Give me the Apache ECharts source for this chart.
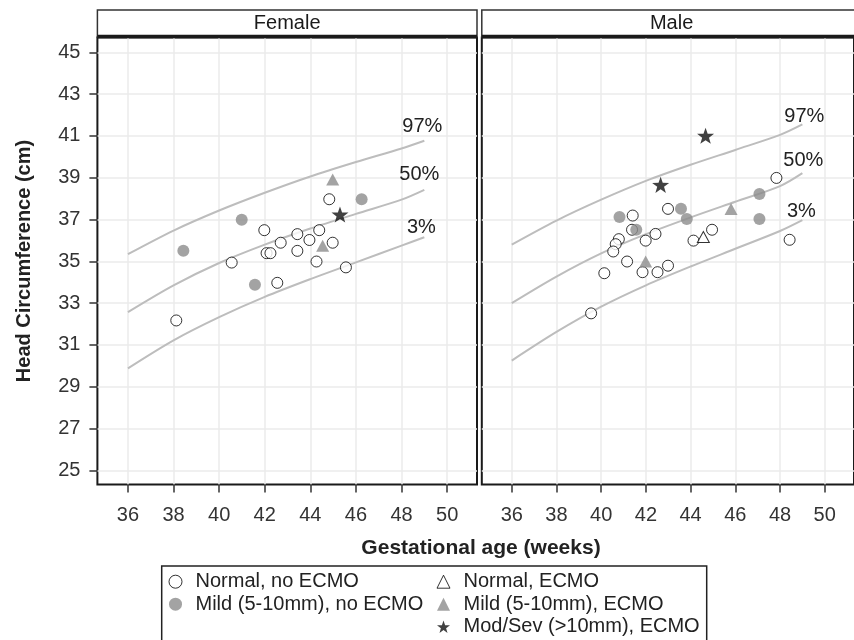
<!DOCTYPE html>
<html><head><meta charset="utf-8">
<script src="https://cdn.jsdelivr.net/npm/echarts@6/dist/echarts.min.js"></script>
<style>html,body{margin:0;padding:0;background:#fff}#c{width:854px;height:640px}</style>
</head><body><div id="c"></div><script>
// ---- data ----
const panels = ['Female', 'Male'];
const xTicks = [36, 38, 40, 42, 44, 46, 48, 50];
const yTicks = [25, 27, 29, 31, 33, 35, 37, 39, 41, 43, 45];
const categories = ['Normal, no ECMO', 'Mild (5-10mm), no ECMO', 'Normal, ECMO', 'Mild (5-10mm), ECMO', 'Mod/Sev (>10mm), ECMO'];
const pctNames = ['97%', '50%', '3%'];
const pctWeeks = [36, 38, 40, 42, 44, 46, 48, 49];
const female97 = [35.34, 36.47, 37.43, 38.28, 39.06, 39.75, 40.40, 40.77];
const female50 = [32.57, 33.85, 34.92, 35.80, 36.57, 37.27, 37.95, 38.42];
const female3  = [29.88, 31.22, 32.33, 33.30, 34.15, 34.95, 35.75, 36.15];
const male97 = [35.80, 36.95, 37.95, 38.85, 39.62, 40.33, 41.05, 41.55];
const male50 = [33.00, 34.27, 35.38, 36.30, 37.10, 37.85, 38.60, 39.22];
const male3  = [30.25, 31.62, 32.83, 33.85, 34.75, 35.60, 36.45, 36.97];

const femaleNormalNoEcmo = [[44.83,37.97],[41.98,36.49],[43.43,36.30],[44.39,36.49],[42.70,35.89],[43.96,36.02],[44.98,35.89],[42.08,35.39],[42.25,35.39],[43.43,35.50],[40.55,34.94],[44.27,34.99],[45.56,34.71],[42.55,33.97],[38.12,32.17]];
const femaleMildNoEcmo = [[46.25,37.97],[40.99,36.99],[38.43,35.50],[41.57,33.88]];
const femaleNormalEcmo = [];
const femaleMildEcmo = [[44.98,38.92],[44.54,35.74]];
const femaleModSevEcmo = [[45.30,37.24]];

const maleNormalNoEcmo = [[47.84,38.99],[42.99,37.51],[41.41,37.19],[41.38,36.51],[42.43,36.31],[41.99,35.99],[44.13,35.99],[44.96,36.51],[40.79,36.06],[40.65,35.82],[40.54,35.47],[48.43,36.03],[41.16,34.99],[42.99,34.79],[40.14,34.43],[41.85,34.48],[42.52,34.48],[39.55,32.51]];
const maleMildNoEcmo = [[47.08,38.22],[43.57,37.51],[43.83,37.02],[47.08,37.03],[40.82,37.12],[41.57,36.51]];
const maleNormalEcmo = [[44.57,36.16]];
const maleMildEcmo = [[45.81,37.50],[41.99,34.99]];
const maleModSevEcmo = [[44.67,41.01],[42.66,38.66]];

// ---- styles ----
const FONT = 'Liberation Sans, Arial, Helvetica, sans-serif';
const GRAY = '#8c8c8c';
const STAR = 'path://M0,-10L2.35,-3.24L9.51,-3.09L3.8,1.24L5.88,8.09L0,4L-5.88,8.09L-3.8,1.24L-9.51,-3.09L-2.35,-3.24Z';
const catStyles = [
  {symbol: 'circle', symbolSize: 11, itemStyle: {color: '#fff', borderColor: '#000', borderWidth: 1}},
  {symbol: 'circle', symbolSize: 12, itemStyle: {color: GRAY}},
  {symbol: 'triangle', symbolSize: [12, 11], itemStyle: {color: '#fff', borderColor: '#000', borderWidth: 1}},
  {symbol: 'triangle', symbolSize: [13, 12], itemStyle: {color: GRAY}},
  {symbol: STAR, symbolSize: 17, symbolKeepAspect: true, itemStyle: {color: '#111'}}
];
const legendIcons = [
  {icon: 'circle', itemStyle: {color: '#fff', borderColor: '#000', borderWidth: 1}},
  {icon: 'circle', itemStyle: {color: GRAY, borderWidth: 0}},
  {icon: 'triangle', itemStyle: {color: '#fff', borderColor: '#000', borderWidth: 1}},
  {icon: 'triangle', itemStyle: {color: GRAY, borderWidth: 0}},
  {icon: STAR, itemStyle: {color: '#111', borderWidth: 0}}
];
const pointData = [
  [femaleNormalNoEcmo, femaleMildNoEcmo, femaleNormalEcmo, femaleMildEcmo, femaleModSevEcmo],
  [maleNormalNoEcmo, maleMildNoEcmo, maleNormalEcmo, maleMildEcmo, maleModSevEcmo]
];
const curveData = [[female97, female50, female3], [male97, male50, male3]];
const labelOffsets = [[[-2,-14],[-5,-15],[-3,-10]], [[2,-8],[1,-13],[-1,-9]]];

const gridLeft = [97.4, 481.8];
const gridW = 379.6;
const gridTop = 37.5, gridH = 447;
const xMin = 34.66, xMax = 51.31, yMin = 24.32, yMax = 45.71;

const grids = [], xAxes = [], yAxes = [], series = [], graphics = [];
panels.forEach((p, i) => {
  grids.push({left: gridLeft[i], top: gridTop, width: gridW, height: gridH, show: true,
    borderColor: '#1a1a1a', borderWidth: 2, backgroundColor: '#fff', containLabel: false});
  xAxes.push({type: 'value', gridIndex: i, min: xMin, max: xMax,
    axisLine: {show: false},
    axisTick: {show: true, length: 8, lineStyle: {color: '#333', width: 1.5}, customValues: xTicks},
    axisLabel: {show: true, customValues: xTicks, fontSize: 20, color: '#333', fontFamily: FONT, margin: 21},
    splitLine: {show: true, lineStyle: {color: '#ebebeb', width: 1.5}}});
  yAxes.push({type: 'value', gridIndex: i, min: yMin, max: yMax,
    axisLine: {show: false},
    axisTick: {show: i === 0, length: 8, lineStyle: {color: '#333', width: 1.5}, customValues: yTicks},
    axisLabel: {show: i === 0, customValues: yTicks, fontSize: 20, color: '#333', fontFamily: FONT, margin: 17},
    splitLine: {show: true, lineStyle: {color: '#ebebeb', width: 1.5}}});
  curveData[i].forEach((vals, k) => {
    series.push({type: 'line', xAxisIndex: i, yAxisIndex: i, silent: true,
      data: pctWeeks.map((w, j) => [w, vals[j]]), smooth: 0.3, showSymbol: false, symbol: 'none',
      lineStyle: {color: '#bdbdbd', width: 2}, z: 2,
      endLabel: {show: true, formatter: pctNames[k], fontSize: 20, color: '#222', fontFamily: FONT,
        align: 'center', verticalAlign: 'middle', distance: 0, offset: labelOffsets[i][k]}});
  });
  categories.forEach((c, k) => {
    series.push(Object.assign({type: 'scatter', name: c, xAxisIndex: i, yAxisIndex: i,
      data: pointData[i][k], z: 5}, JSON.parse(JSON.stringify(catStyles[k]))));
  });
  // strip
  graphics.push({type: 'rect', shape: {x: gridLeft[i], y: 10, width: gridW, height: 27},
    style: {fill: '#fff', stroke: '#333', lineWidth: 1.5}, z: 10});
  graphics.push({type: 'line', shape: {x1: gridLeft[i], y1: 36.5, x2: gridLeft[i] + gridW, y2: 36.5},
    style: {stroke: '#1a1a1a', lineWidth: 3.5}, z: 11});
  graphics.push({type: 'text', x: gridLeft[i] + gridW / 2, y: 23.5,
    style: {text: p, font: '20px ' + FONT, fill: '#1a1a1a', align: 'center', verticalAlign: 'middle'}, z: 12});
});

// axis titles
graphics.push({type: 'text', x: 481, y: 548,
  style: {text: 'Gestational age (weeks)', font: 'bold 21px ' + FONT, fill: '#222', align: 'center', verticalAlign: 'middle'}});
graphics.push({type: 'text', x: 24, y: 261, rotation: Math.PI / 2,
  style: {text: 'Head Circumference (cm)', font: 'bold 20px ' + FONT, fill: '#222', align: 'center', verticalAlign: 'middle'}});
// legend box
graphics.push({type: 'rect', shape: {x: 161.7, y: 566, width: 545, height: 100},
  style: {fill: 'none', stroke: '#222', lineWidth: 1.5}, z: 1});

const legendCommon = {orient: 'vertical', itemWidth: 13, itemHeight: 13, itemGap: 0.5, selectedMode: false,
  padding: 0, height: 80,
  textStyle: {fontSize: 20, color: '#222', fontFamily: FONT, lineHeight: 22, padding: [0, 0, 0, 8.5]}};
const legendData = categories.map((c, k) => Object.assign({name: c}, legendIcons[k]));
const option = {
  animation: false,
  backgroundColor: '#fff',
  grid: grids, xAxis: xAxes, yAxis: yAxes, series: series,
  legend: [
    Object.assign({}, legendCommon, {left: 168.5, top: 570.7, data: legendData.slice(0, 2)}),
    Object.assign({}, legendCommon, {left: 436.5, top: 570.7, data: legendData.slice(2)})
  ],
  graphic: graphics
};
const chart = echarts.init(document.getElementById('c'), null, {width: 854, height: 640});
chart.setOption(option);
</script></body></html>
